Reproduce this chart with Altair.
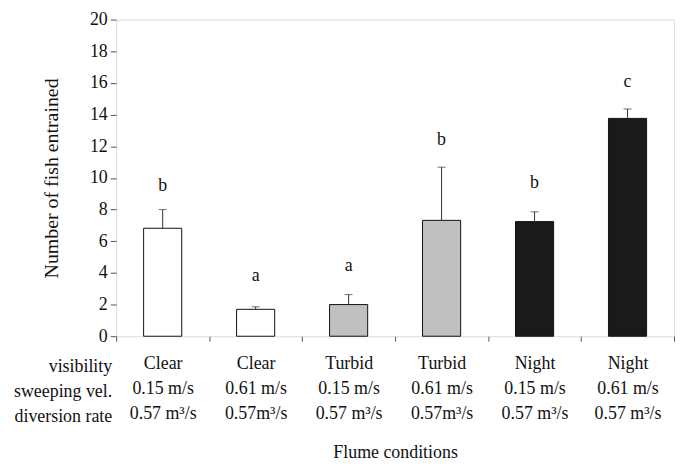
import altair as alt
import pandas as pd

visibility = ["Clear", "Clear", "Turbid", "Turbid", "Night", "Night"]
sweeping = ["0.15 m/s", "0.61 m/s", "0.15 m/s", "0.61 m/s", "0.15 m/s", "0.61 m/s"]
diversion = ["0.57 m³/s", "0.57m³/s", "0.57 m³/s", "0.57m³/s", "0.57 m³/s", "0.57 m³/s"]
means = [6.82, 1.70, 2.00, 7.32, 7.24, 13.76]
err_top = [8.0, 1.86, 2.63, 10.68, 7.86, 14.35]
letters = ["b", "a", "a", "b", "b", "c"]
letter_y = [9.47, 3.78, 4.41, 12.39, 9.67, 16.05]
row_names = ["visibility", "sweeping vel.", "diversion rate"]
y_ticks = [0, 2, 4, 6, 8, 10, 12, 14, 16, 18, 20]

cond = [f"{v}|{s}|{d}" for v, s, d in zip(visibility, sweeping, diversion)]
df = pd.DataFrame({
    "cond": cond, "vis": visibility, "mean": means, "err": err_top,
    "letter": letters, "ly": letter_y,
})

FONT = "Liberation Serif"
W, H = 562, 319

xaxis = alt.Axis(title="Flume conditions", labelExpr="split(datum.label, '|')",
                 labelAngle=0, labelLineHeight=25, labelBaseline="alphabetic",
                 labelPadding=28, labelFont=FONT, labelFontSize=18, labelColor="#111",
                 tickBand="extent", tickSize=5, tickColor="#555", domain=False,
                 titleFont=FONT, titleFontSize=18, titleFontWeight="normal",
                 titleColor="#111", titleX=W / 2, titleY=122,
                 titleBaseline="alphabetic", titleAnchor="middle")
yaxis = alt.Axis(title="Number of fish entrained", values=y_ticks,
                 labelOverlap=False, labelFlush=False,
                 tickSize=6, tickColor="#555", domain=False, grid=False,
                 labelFont=FONT, labelFontSize=18, labelColor="#111", labelPadding=3,
                 titleFont=FONT, titleFontSize=20, titleFontWeight="normal",
                 titleColor="#111", titleAngle=-90, titleX=-59, titleY=H / 2,
                 titleBaseline="alphabetic", titleAlign="center")
xscale = alt.Scale(paddingInner=0, paddingOuter=0)
yscale = alt.Scale(domain=[0, 20], nice=False)


def xch():
    return alt.X("cond:N", sort=None, scale=xscale, axis=xaxis)


def ych(field):
    return alt.Y(field, type="quantitative", scale=yscale, axis=yaxis)


bars = alt.Chart(df).mark_bar(width={"band": 0.41}, stroke="#111", strokeWidth=1).encode(
    x=xch(), y=ych("mean"),
    color=alt.Color("vis:N", scale=alt.Scale(domain=["Clear", "Turbid", "Night"],
                                            range=["#ffffff", "#c0c0c0", "#1a1a1a"]),
                    legend=None),
)
rules = alt.Chart(df).mark_rule(color="#333", strokeWidth=1).encode(
    x=xch(), y=ych("mean"), y2="err:Q")
caps = alt.Chart(df).mark_tick(color="#333", thickness=1, size=8).encode(
    x=xch(), y=ych("err"))
labels = alt.Chart(df).mark_text(font=FONT, fontSize=18, color="#111", baseline="middle").encode(
    x=xch(), y=ych("ly"), text="letter:N")

rows = alt.Chart(pd.DataFrame({"t": [0]})).mark_text(
    font=FONT, fontSize=18, color="#111", align="right", baseline="alphabetic",
    lineHeight=25).encode(x=alt.value(-4), y=alt.value(H + 36), text=alt.value(row_names))

chart = alt.layer(bars, rules, caps, labels, rows).properties(
    width=W, height=H,
    autosize=alt.AutoSizeParams(type="none"),
    padding={"left": 109, "top": 10, "right": 1, "bottom": 124},
).configure_view(stroke="#666", strokeWidth=1.2).configure(background="white")

chart.save("out.html", embed_options={"renderer": "svg", "actions": False})
